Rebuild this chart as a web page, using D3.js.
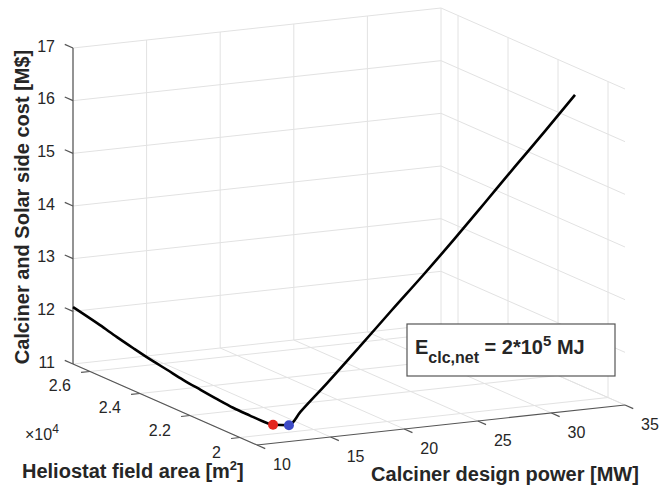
<!DOCTYPE html>
<html>
<head>
<meta charset="utf-8">
<script src="https://cdn.jsdelivr.net/npm/d3@7"></script>
<style>
body { margin: 0; background: #fff; }
svg text { font-family: "Liberation Sans", Arial, sans-serif; fill: #262626; }
</style>
</head>
<body>
<svg id="chart" width="662" height="490"></svg>
<script>
// data (power MW, heliostat area m2, cost M$)
var power = [10, 10.02, 10.05, 10.10, 10.16, 10.24, 10.33, 10.44, 10.57, 10.70, 10.85, 10.97, 11.09,
             12.17, 13, 15, 17.5, 20, 22.5, 25, 27.5, 30, 32.5, 35];
var area = [26680, 25610, 24950, 24340, 23700, 23060, 22470, 21860, 21250, 20690, 20100, 19690, 19320,
            19320, 19350, 19450, 19620, 19820, 20030, 20270, 20510, 20770, 21040, 21320];
var cost = [12.08, 11.96, 11.87, 11.79, 11.71, 11.64, 11.57, 11.51, 11.45, 11.40, 11.37, 11.35, 11.35,
            11.31, 11.53, 12.00, 12.58, 13.15, 13.70, 14.25, 14.82, 15.38, 15.92, 16.47];
var markIndex = [12, 13];
var markColours = ['#e3261f', '#3d4bc6'];

var powerTicks = [10, 15, 20, 25, 30, 35];
var areaTicks = [20000, 22000, 24000, 26000];
var areaTickLabels = ['2', '2.2', '2.4', '2.6'];
var costTicks = [11, 12, 13, 14, 15, 16, 17];

var X0 = 10, X1 = 35, Y0 = 19320, Y1 = 26680, Z0 = 11, Z1 = 17;

// screen axes of the 3d box
var ORIGIN = [257, 445];
var AX_X = [368, -40];
var AX_Y = [-184, -81];
var AX_Z = [0, -316];

var xs = d3.scaleLinear().domain([X0, X1]).range([0, 1]);
var ys = d3.scaleLinear().domain([Y0, Y1]).range([0, 1]);
var zs = d3.scaleLinear().domain([Z0, Z1]).range([0, 1]);

function project(x, y, z) {
    var a = xs(x), b = ys(y), c = zs(z);
    return [ORIGIN[0] + a * AX_X[0] + b * AX_Y[0] + c * AX_Z[0],
            ORIGIN[1] + a * AX_X[1] + b * AX_Y[1] + c * AX_Z[1]];
}
function unit(v, len) {
    var n = Math.sqrt(v[0] * v[0] + v[1] * v[1]);
    return [v[0] / n * len, v[1] / n * len];
}

var svg = d3.select('#chart');

// grid on the three back planes
var grid = [];
powerTicks.forEach(function (p) {
    grid.push([[p, Y1, Z0], [p, Y1, Z1]]);
    grid.push([[p, Y0, Z0], [p, Y1, Z0]]);
});
areaTicks.forEach(function (a) {
    grid.push([[X1, a, Z0], [X1, a, Z1]]);
    grid.push([[X0, a, Z0], [X1, a, Z0]]);
});
costTicks.forEach(function (c) {
    grid.push([[X0, Y1, c], [X1, Y1, c]]);
    grid.push([[X1, Y0, c], [X1, Y1, c]]);
});

svg.append('g').selectAll('line')
    .data(grid)
    .enter().append('line')
    .attr('x1', (d) => project.apply(null, d[0])[0])
    .attr('y1', (d) => project.apply(null, d[0])[1])
    .attr('x2', (d) => project.apply(null, d[1])[0])
    .attr('y2', (d) => project.apply(null, d[1])[1])
    .attr('stroke', '#e2e2e2')
    .attr('stroke-width', 1);

// axis lines
var axes = [
    [[X0, Y1, Z0], [X0, Y1, Z1]],
    [[X0, Y0, Z0], [X0, Y1, Z0]],
    [[X0, Y0, Z0], [X1, Y0, Z0]]
];
svg.append('g').selectAll('line')
    .data(axes)
    .enter().append('line')
    .attr('x1', (d) => project.apply(null, d[0])[0])
    .attr('y1', (d) => project.apply(null, d[0])[1])
    .attr('x2', (d) => project.apply(null, d[1])[0])
    .attr('y2', (d) => project.apply(null, d[1])[1])
    .attr('stroke', '#555')
    .attr('stroke-width', 1.2);

// ticks
var tz = unit(AX_Y, 9);
var ty = unit([-AX_X[0], -AX_X[1]], 9);
var tx = unit([-AX_Y[0], -AX_Y[1]], 9);
var ticks = [];
costTicks.forEach((c) => ticks.push({p: project(X0, Y1, c), d: tz}));
areaTicks.forEach((a) => ticks.push({p: project(X0, a, Z0), d: ty}));
powerTicks.forEach((p) => ticks.push({p: project(p, Y0, Z0), d: tx}));
svg.append('g').selectAll('line')
    .data(ticks)
    .enter().append('line')
    .attr('x1', (d) => d.p[0])
    .attr('y1', (d) => d.p[1])
    .attr('x2', (d) => d.p[0] + d.d[0])
    .attr('y2', (d) => d.p[1] + d.d[1])
    .attr('stroke', '#555')
    .attr('stroke-width', 1.2);

// tick labels
svg.append('g').selectAll('text')
    .data(costTicks)
    .enter().append('text')
    .attr('x', 55)
    .attr('y', (d) => project(X0, Y1, d)[1] - 2)
    .attr('text-anchor', 'end')
    .attr('dominant-baseline', 'central')
    .attr('font-size', 16)
    .text((d) => d);

svg.append('g').selectAll('text')
    .data(areaTicks)
    .enter().append('text')
    .attr('x', (d) => project(X0, d, Z0)[0] - 19)
    .attr('y', (d) => project(X0, d, Z0)[1] + 14.5)
    .attr('text-anchor', 'end')
    .attr('dominant-baseline', 'central')
    .attr('font-size', 16)
    .text((d, i) => areaTickLabels[i]);

svg.append('g').selectAll('text')
    .data(powerTicks)
    .enter().append('text')
    .attr('x', (d) => project(d, Y0, Z0)[0] + 25)
    .attr('y', (d) => project(d, Y0, Z0)[1] + 19)
    .attr('text-anchor', 'middle')
    .attr('dominant-baseline', 'central')
    .attr('font-size', 16)
    .text((d) => d);

var expo = svg.append('text')
    .attr('x', 25)
    .attr('y', 440)
    .attr('font-size', 16)
    .attr('fill', '#555');
expo.append('tspan').text('\u00d710');
expo.append('tspan').attr('dy', -7).attr('font-size', 12).text('4');

// axis titles
svg.append('text')
    .attr('transform', 'translate(29,207)rotate(-90)')
    .attr('text-anchor', 'middle')
    .attr('font-size', 20)
    .attr('font-weight', 'bold')
    .text('Calciner and Solar side cost [M$]');

svg.append('text')
    .attr('x', 505)
    .attr('y', 481)
    .attr('text-anchor', 'middle')
    .attr('font-size', 20)
    .attr('font-weight', 'bold')
    .text('Calciner design power [MW]');

var ylab = svg.append('text')
    .attr('x', 22)
    .attr('y', 478)
    .attr('font-size', 20)
    .attr('font-weight', 'bold');
ylab.append('tspan').text('Heliostat field area [m');
ylab.append('tspan').attr('dy', -8).attr('font-size', 13).text('2');
ylab.append('tspan').attr('dy', 8).text(']');

// the curve
var pts = power.map((p, i) => project(p, area[i], cost[i]));
svg.append('path')
    .attr('d', d3.line().curve(d3.curveMonotoneX)(pts))
    .attr('fill', 'none')
    .attr('stroke', '#000')
    .attr('stroke-width', 2.6);

svg.append('g').selectAll('circle')
    .data(markIndex)
    .enter().append('circle')
    .attr('cx', (d) => pts[d][0])
    .attr('cy', (d) => pts[d][1])
    .attr('r', 5)
    .attr('fill', (d, i) => markColours[i]);

// annotation box
svg.append('rect')
    .attr('x', 407)
    .attr('y', 324)
    .attr('width', 208)
    .attr('height', 52)
    .attr('fill', '#fff')
    .attr('stroke', '#555')
    .attr('stroke-width', 1.2);

var note = svg.append('text')
    .attr('x', 415)
    .attr('y', 354)
    .attr('font-size', 20)
    .attr('font-weight', 'bold');
note.append('tspan').text('E');
note.append('tspan').attr('dy', 9).attr('font-size', 16).text('clc,net');
note.append('tspan').attr('dy', -9).text(' = 2*10');
note.append('tspan').attr('dy', -8).attr('font-size', 15).text('5');
note.append('tspan').attr('dy', 8).text(' MJ');
</script>
</body>
</html>
